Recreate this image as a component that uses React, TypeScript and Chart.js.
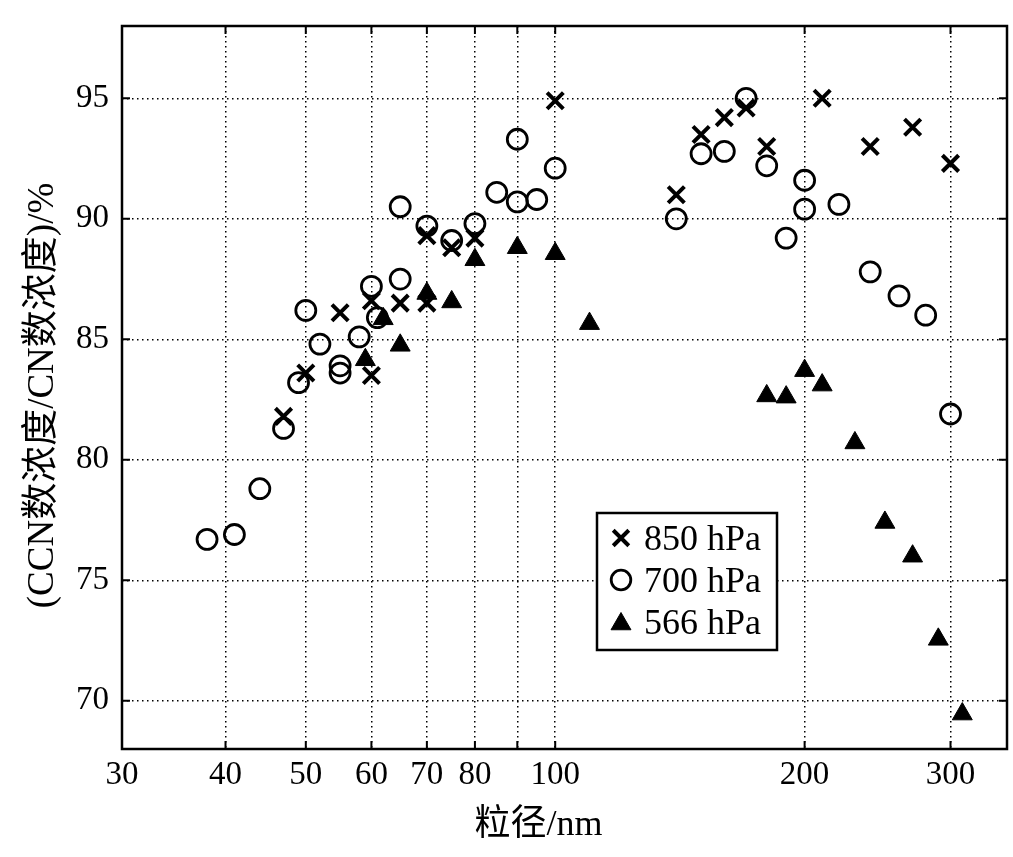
import React, { useEffect, useRef } from 'react';
import { Chart, registerables } from 'chart.js';

Chart.register(...registerables);

const FONT = "'Liberation Serif', 'Noto Sans CJK SC', serif";

const seriesNames = ['850 hPa', '700 hPa', '566 hPa'];

const x850 = [47, 50, 55, 60, 60, 65, 70, 70, 75, 80, 100, 140, 150, 160, 170, 180, 210, 240, 270, 300];
const y850 = [81.8, 83.6, 86.1, 83.5, 86.6, 86.5, 86.5, 89.3, 88.8, 89.2, 94.9, 91.0, 93.5, 94.2, 94.6, 93.0, 95.0, 93.0, 93.8, 92.3];

const x700 = [38, 41, 44, 47, 49, 50, 52, 55, 55, 58, 60, 61, 65, 65, 70, 75, 80, 85, 90, 90, 95, 100, 140, 150, 160, 170, 180, 190, 200, 200, 220, 240, 260, 280, 300];
const y700 = [76.7, 76.9, 78.8, 81.3, 83.2, 86.2, 84.8, 83.9, 83.6, 85.1, 87.2, 85.9, 90.5, 87.5, 89.7, 89.1, 89.8, 91.1, 90.7, 93.3, 90.8, 92.1, 90.0, 92.7, 92.8, 95.0, 92.2, 89.2, 91.6, 90.4, 90.6, 87.8, 86.8, 86.0, 81.9];

const x566 = [59, 62, 65, 70, 75, 80, 90, 100, 110, 180, 190, 200, 210, 230, 250, 270, 290, 310];
const y566 = [84.15, 85.85, 84.75, 86.9, 86.55, 88.3, 88.8, 88.55, 85.65, 82.65, 82.6, 83.7, 83.1, 80.7, 77.4, 76.0, 72.55, 69.45];

const xTickValues = [30, 40, 50, 60, 70, 80, 90, 100, 200, 300];
const xTickLabels = ['30', '40', '50', '60', '70', '80', '', '100', '200', '300'];
const yTickValues = [70, 75, 80, 85, 90, 95];

const xTitle = '粒径/nm';
const yTitle = '(CCN数浓度/CN数浓度)/%';

const markerStyles = ['crossRot', 'circle', 'triangle'];

function pts(xs: number[], ys: number[]) {
  return xs.map((x, i) => ({ x, y: ys[i] }));
}

function drawMarker(ctx: CanvasRenderingContext2D, style: string, x: number, y: number) {
  ctx.save();
  ctx.strokeStyle = '#000';
  ctx.fillStyle = '#000';
  if (style === 'crossRot') {
    const d = 11 * Math.SQRT1_2;
    ctx.lineWidth = 4;
    ctx.beginPath();
    ctx.moveTo(x - d, y - d);
    ctx.lineTo(x + d, y + d);
    ctx.moveTo(x + d, y - d);
    ctx.lineTo(x - d, y + d);
    ctx.stroke();
  } else if (style === 'circle') {
    ctx.lineWidth = 2.8;
    ctx.beginPath();
    ctx.arc(x, y, 9.8, 0, Math.PI * 2);
    ctx.stroke();
  } else {
    const r = 11.5;
    ctx.lineWidth = 1;
    ctx.beginPath();
    for (let k = 0; k < 3; k++) {
      const a = (k * 2 * Math.PI) / 3;
      const px = x + Math.sin(a) * r;
      const py = y - Math.cos(a) * r;
      if (k === 0) ctx.moveTo(px, py);
      else ctx.lineTo(px, py);
    }
    ctx.closePath();
    ctx.fill();
    ctx.stroke();
  }
  ctx.restore();
}

const framePlugin = {
  id: 'frameTicks',
  afterDatasetsDraw(chart: any) {
    const { ctx, chartArea } = chart;
    const { left, right, top, bottom } = chartArea;
    const xs = chart.scales.x;
    const ys = chart.scales.y;
    ctx.save();
    ctx.strokeStyle = '#000';
    ctx.lineWidth = 2.5;
    ctx.strokeRect(left, top, right - left, bottom - top);
    ctx.lineWidth = 2;
    ctx.beginPath();
    for (const v of xTickValues) {
      const px = xs.getPixelForValue(v);
      if (px <= left + 1 || px >= right - 1) continue;
      ctx.moveTo(px, bottom);
      ctx.lineTo(px, bottom - 8);
      ctx.moveTo(px, top);
      ctx.lineTo(px, top + 8);
    }
    for (const v of yTickValues) {
      const py = ys.getPixelForValue(v);
      ctx.moveTo(left, py);
      ctx.lineTo(left + 8, py);
      ctx.moveTo(right, py);
      ctx.lineTo(right - 8, py);
    }
    ctx.stroke();
    ctx.restore();
  },
  afterDraw(chart: any) {
    const { ctx, chartArea } = chart;
    const { left, right, top, bottom } = chartArea;
    ctx.save();
    // axis titles
    ctx.fillStyle = '#000';
    ctx.font = `36px ${FONT}`;
    ctx.textAlign = 'center';
    ctx.textBaseline = 'alphabetic';
    ctx.fillText(xTitle, (left + right) / 2 - 26, bottom + 86);
    ctx.save();
    ctx.font = `37px ${FONT}`;
    ctx.translate(left - 69, (top + bottom) / 2 + 8);
    ctx.rotate(-Math.PI / 2);
    ctx.fillText(yTitle, 0, 0);
    ctx.restore();

    // legend box
    const bx = left + 475;
    const by = top + 487;
    const bw = 180;
    const bh = 137;
    ctx.fillStyle = '#fff';
    ctx.fillRect(bx, by, bw, bh);
    ctx.strokeStyle = '#000';
    ctx.lineWidth = 2.5;
    ctx.strokeRect(bx, by, bw, bh);
    ctx.font = `36px ${FONT}`;
    ctx.textAlign = 'left';
    ctx.textBaseline = 'alphabetic';
    ctx.fillStyle = '#000';
    seriesNames.forEach((name, i) => {
      const cy = by + 25 + i * 42;
      drawMarker(ctx, markerStyles[i], bx + 24, cy + (i === 2 ? 2 : 0));
      ctx.fillText(name, bx + 47, cy + 12);
    });
    ctx.restore();
  },
};

export default function App() {
  const canvasRef = useRef<HTMLCanvasElement | null>(null);

  useEffect(() => {
    const canvas = canvasRef.current;
    if (!canvas) return;
    const chart = new Chart(canvas, {
      type: 'scatter',
      data: {
        datasets: [
          {
            label: seriesNames[0],
            data: pts(x850, y850),
            pointStyle: 'crossRot',
            pointRadius: 11.5,
            pointBorderWidth: 4,
            borderColor: '#000',
            backgroundColor: '#000',
            showLine: false,
          },
          {
            label: seriesNames[1],
            data: pts(x700, y700),
            pointStyle: 'circle',
            pointRadius: 10,
            pointBorderWidth: 2.8,
            borderColor: '#000',
            backgroundColor: 'rgba(0,0,0,0)',
            showLine: false,
          },
          {
            label: seriesNames[2],
            data: pts(x566, y566),
            pointStyle: 'triangle',
            pointRadius: 11.5,
            pointBorderWidth: 1,
            borderColor: '#000',
            backgroundColor: '#000',
            showLine: false,
          },
        ],
      },
      options: {
        responsive: false,
        animation: false,
        devicePixelRatio: 1,
        layout: { autoPadding: false, padding: { left: 0, top: 26, right: 6, bottom: 0 } },
        plugins: {
          legend: { display: false },
          tooltip: { enabled: false },
          title: { display: false },
        },
        scales: {
          x: {
            type: 'logarithmic',
            min: 30,
            max: 351,
            afterBuildTicks: (s: any) => {
              s.ticks = xTickValues.map((v) => ({ value: v }));
            },
            afterFit: (s: any) => {
              s.height = 108;
              s.paddingLeft = 0;
              s.paddingRight = 0;
              s.paddingTop = 0;
              s.paddingBottom = 0;
            },
            ticks: {
              autoSkip: false,
              maxRotation: 0,
              minRotation: 0,
              padding: 7,
              color: '#000',
              font: { family: FONT, size: 33 },
              callback: (_v: any, i: number) => xTickLabels[i],
            },
            grid: { color: '#000', lineWidth: 1.5, drawTicks: false },
            border: { display: false, dash: [1.5, 3.5] },
          },
          y: {
            type: 'linear',
            min: 68,
            max: 98,
            afterBuildTicks: (s: any) => {
              s.ticks = yTickValues.map((v) => ({ value: v }));
            },
            afterFit: (s: any) => {
              s.width = 122;
              s.paddingLeft = 0;
              s.paddingRight = 0;
              s.paddingTop = 0;
              s.paddingBottom = 0;
            },
            ticks: {
              padding: 13,
              color: '#000',
              font: { family: FONT, size: 33 },
              callback: (v: any) => String(v),
            },
            grid: { color: '#000', lineWidth: 1.5, drawTicks: false },
            border: { display: false, dash: [1.5, 3.5] },
          },
        },
      },
      plugins: [framePlugin],
    } as any);
    return () => chart.destroy();
  }, []);

  return (
    <div style={{ position: 'absolute', left: 0, top: 0, width: 1013, height: 857, background: '#fff' }}>
      <canvas ref={canvasRef} width={1013} height={857} style={{ display: 'block' }} />
    </div>
  );
}
